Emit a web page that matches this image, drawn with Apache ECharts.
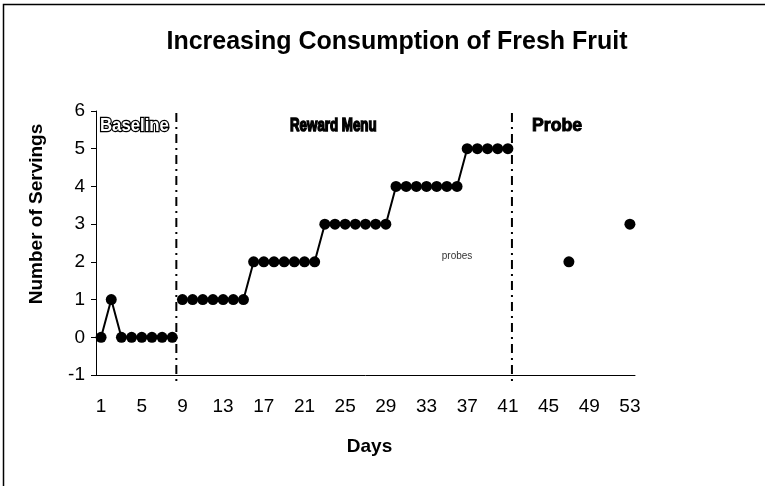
<!DOCTYPE html>
<html>
<head>
<meta charset="utf-8">
<script src="https://cdn.jsdelivr.net/npm/echarts@6/dist/echarts.min.js"></script>
<style>html,body{margin:0;padding:0;background:#fff}#c{width:765px;height:486px}</style>
</head>
<body>
<div id="c"></div>
<script>
const days = ['1','2','3','4','5','6','7','8','9','10','11','12','13','14','15','16','17','18','19','20','21','22','23','24','25','26','27','28','29','30','31','32','33','34','35','36','37','38','39','40','41','42','43','44','45','46','47','48','49','50','51','52','53'];
const baselineDays = ['1','2','3','4','5','6','7','8'];
const baselineVals = [0,1,0,0,0,0,0,0];
const rewardDays = ['9','10','11','12','13','14','15','16','17','18','19','20','21','22','23','24','25','26','27','28','29','30','31','32','33','34','35','36','37','38','39','40','41'];
const rewardVals = [1,1,1,1,1,1,1,2,2,2,2,2,2,2,3,3,3,3,3,3,3,4,4,4,4,4,4,4,5,5,5,5,5];
const probeDays = ['47','53'];
const probeVals = [2,3];
const phaseChanges = [8.4, 41.4];
const phaseNames = ['Baseline','Reward Menu','Probe'];
const yTicks = [-1,0,1,2,3,4,5,6];

const FONT = 'Liberation Sans, Arial, sans-serif';
const chart = echarts.init(document.getElementById('c'));
const pairs = (d, v) => d.map((x, i) => [x, v[i]]);
const phaseSeries = phaseChanges.map(x => ({
  type: 'line', xAxisIndex: 1, yAxisIndex: 0, clip: false, silent: true,
  symbol: 'none', data: [[x, 5.95], [x, -1.2]],
  lineStyle: { color: '#000', width: 2, type: [9, 5, 2, 5] }, z: 1
}));
const lineBase = {
  type: 'line', symbol: 'circle', symbolSize: 11, showSymbol: true, showAllSymbol: true,
  itemStyle: { color: '#000', opacity: 1 }, lineStyle: { color: '#000', width: 2 }, z: 3
};
chart.setOption({
  animation: false,
  title: {
    text: 'Increasing Consumption of Fresh Fruit', left: 392, top: 25, textAlign: 'center',
    textStyle: { fontFamily: FONT, fontSize: 25, fontWeight: 'bold', color: '#000' }
  },
  grid: { left: 96, right: 130, top: 111, bottom: 111, containLabel: false },
  xAxis: [{
    type: 'category', data: days, boundaryGap: true,
    name: 'Days', nameLocation: 'middle', nameGap: 62,
    nameTextStyle: { fontFamily: FONT, fontSize: 19, fontWeight: 'bold', color: '#000', padding: [0, 0, 0, 8] },
    axisLine: { onZero: false, lineStyle: { color: '#000', width: 1 } },
    axisTick: { interval: 0, length: 5, lineStyle: { color: '#000' } },
    axisLabel: { interval: 3, margin: 22, fontFamily: FONT, fontSize: 19, color: '#000' },
    splitLine: { show: false }
  }, {
    type: 'value', min: 0.5, max: 53.5, show: false
  }],
  yAxis: {
    type: 'value', min: yTicks[0], max: yTicks[yTicks.length - 1], interval: 1,
    axisLine: { show: true, onZero: false, lineStyle: { color: '#000', width: 1 } },
    axisTick: { show: true, length: 5, lineStyle: { color: '#000' } },
    axisLabel: { margin: 11, fontFamily: FONT, fontSize: 19, color: '#000' },
    splitLine: { show: false }
  },
  series: [
    ...phaseSeries,
    Object.assign({ data: pairs(baselineDays, baselineVals) }, lineBase),
    Object.assign({ data: pairs(rewardDays, rewardVals) }, lineBase),
    {
      type: 'scatter', data: pairs(probeDays, probeVals), symbol: 'circle', symbolSize: 11,
      itemStyle: { color: '#000', opacity: 1 }, z: 3,
      markPoint: {
        symbol: 'rect', symbolSize: 1, itemStyle: { color: 'rgba(0,0,0,0)' },
        label: { show: true, formatter: 'probes', color: '#333', fontSize: 10, fontFamily: FONT },
        data: [{ coord: ['36', 2.15] }]
      }
    }
  ],
  graphic: [
    { type: 'rect', shape: { x: 3.5, y: 4.5, width: 900, height: 700 }, style: { fill: null, stroke: '#000', lineWidth: 1.5 }, silent: true },
    { type: 'text', x: 37, y: 214, rotation: Math.PI / 2, silent: true,
      style: { text: 'Number of Servings', fill: '#000', font: 'bold 19px ' + FONT, textAlign: 'center', textVerticalAlign: 'middle' } },
    { type: 'text', x: 100, y: 117, scaleX: 0.93, silent: true, style: { text: phaseNames[0], fill: '#fff', stroke: '#000', lineWidth: 2.5, font: 'bold 18px ' + FONT } },
    { type: 'text', x: 290, y: 117, scaleX: 0.74, silent: true, style: { text: phaseNames[1], fill: '#000', stroke: '#000', lineWidth: 1.5, font: 'bold 18px ' + FONT } },
    { type: 'text', x: 532, y: 117, scaleX: 0.98, silent: true, style: { text: phaseNames[2], fill: '#000', stroke: '#000', lineWidth: 1, font: 'bold 18px ' + FONT } }
  ]
});
</script>
</body>
</html>
